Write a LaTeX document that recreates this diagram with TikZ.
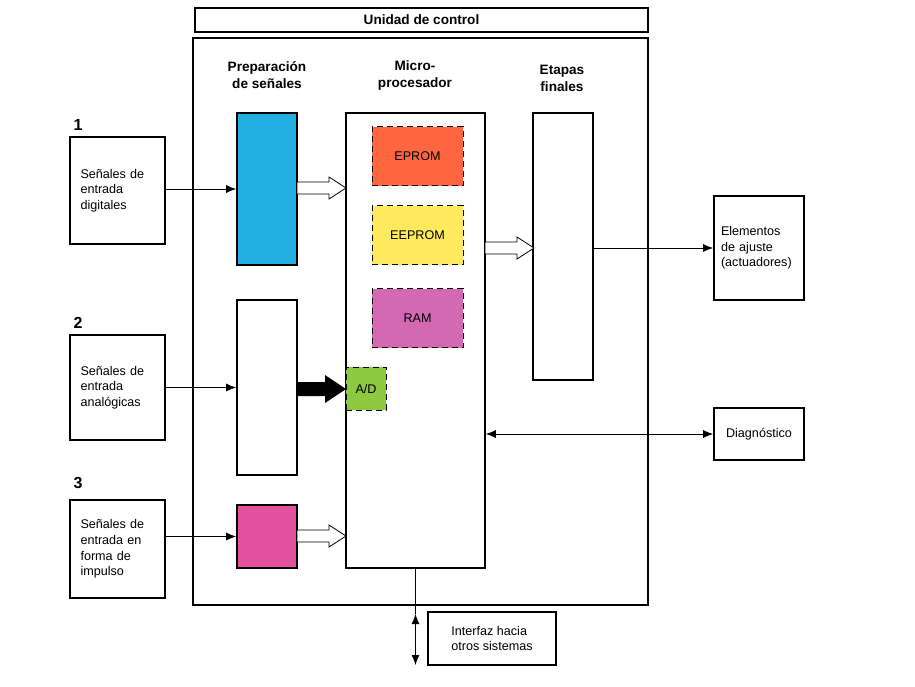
\documentclass[tikz,border=0pt]{standalone}
\usepackage{fontspec}
\setmainfont{Liberation Sans}
\usetikzlibrary{arrows.meta}
\definecolor{prepblue}{HTML}{22B0E2}
\definecolor{eprom}{HTML}{FF6640}
\definecolor{eeprom}{HTML}{FFEA5E}
\definecolor{ram}{HTML}{D468B2}
\definecolor{adconv}{HTML}{8CC840}
\definecolor{impulse}{HTML}{E2509E}
\newcommand{\hollowarrow}[2]{% tail point
  \draw[fill=white] (#1,#2) ++(0,-6) -- ++(32,0) -- ++(0,-5) -- ++(17,11) -- ++(-17,11) -- ++(0,-5) -- ++(-32,0) -- cycle;}
\begin{document}
\begin{tikzpicture}[x=0.5pt,y=-0.5pt,
    box/.style={draw,thick,inner sep=0pt,font=\fontsize{6.3}{7.8}\selectfont},
    mem/.style={draw,densely dashed,inner sep=0pt,minimum width=45.5pt,minimum height=29.5pt,font=\fontsize{6.3}{7.8}\selectfont},
    head/.style={font=\bfseries\fontsize{6.8}{8.5}\selectfont,align=center},
    num/.style={font=\bfseries\fontsize{8}{9}\selectfont},
    >={Latex[length=5pt,width=4pt]}]
  \useasboundingbox (0,0) rectangle (915,686);

  \node[box,minimum width=226.5pt,minimum height=12pt,font=\bfseries\fontsize{6.8}{8}\selectfont] (title) at (421.5,20) {Unidad de control};
  \node[box,minimum width=227.5pt,minimum height=283.5pt] (ctrl) at (420.5,321.5) {};

  % entradas
  \node[box,minimum width=47.5pt,minimum height=53.5pt,align=left,text width=37pt] (in1) at (117.5,190.5) {Señales de\\entrada\\digitales};
  \node[box,minimum width=47.5pt,minimum height=52.5pt,align=left,text width=37pt] (in2) at (117.5,387.5) {Señales de\\entrada\\analógicas};
  \node[box,minimum width=47.5pt,minimum height=49pt,align=left,text width=37pt] (in3) at (117.5,549) {Señales de\\entrada en\\forma de\\impulso};
  \node[num] (n1) at (78,125) {1};
  \node[num] (n2) at (78,323) {2};
  \node[num] (n3) at (78,483) {3};

  \node[head] (hprep) at (267,75) {Preparación\\de señales};
  \node[head] (hmicro) at (415,75) {Micro-\\procesador};
  \node[head] (hetap) at (562,78) {Etapas\\finales};

  % bloques
  \node[box,fill=prepblue,minimum width=30pt,minimum height=76pt] (blue) at (267,189) {};
  \node[box,minimum width=30pt,minimum height=87.5pt] (white) at (267,387.5) {};
  \node[box,fill=impulse,minimum width=30pt,minimum height=31.5pt] (pink) at (267,536.5) {};
  \node[box,minimum width=69.5pt,minimum height=227.5pt] (micro) at (415.5,340.5) {};
  \node[mem,fill=eprom] (ep) at (417.5,156) {EPROM};
  \node[mem,fill=eeprom] (eep) at (417.5,235) {EEPROM};
  \node[mem,fill=ram] (ram) at (417.5,318) {RAM};
  \node[mem,fill=adconv,minimum width=20pt,minimum height=21.5pt] (ad) at (366,388.5) {A/D};
  \node[box,minimum width=30pt,minimum height=133.5pt] (etap) at (563,246.5) {};

  \node[box,minimum width=45pt,minimum height=52pt,align=left,text width=38pt] (elem) at (759,248) {Elementos\\de ajuste\\(actuadores)};
  \node[box,minimum width=45pt,minimum height=26pt] (diag) at (759,434) {Diagnóstico};
  \node[box,minimum width=64pt,minimum height=26.5pt,align=left] (iface) at (492,638.5) {Interfaz hacia\\otros sistemas};

  % conexiones
  \draw[->] (in1.east |- blue.west) -- (blue.west);
  \draw[->] (in2) -- (white);
  \draw[->] (in3.east |- pink.west) -- (pink.west);
  \hollowarrow{297}{188}
  \hollowarrow{297}{536}
  \hollowarrow{485}{248}
  \fill (297,382) -- ++(28,0) -- ++(0,-7) -- ++(21,14) -- ++(-21,14) -- ++(0,-7) -- ++(-28,0) -- cycle;
  \draw[->] (etap.east |- elem.west) -- (elem.west);
  \draw[<->] (micro.east |- diag) -- (diag.west);
  \coordinate (ifa) at (415.5,614);
  \coordinate (ifb) at (415.5,665);
  \draw (micro.south) -- (ifa);
  \draw[<->] (ifa) -- (ifb);
\end{tikzpicture}
\end{document}
